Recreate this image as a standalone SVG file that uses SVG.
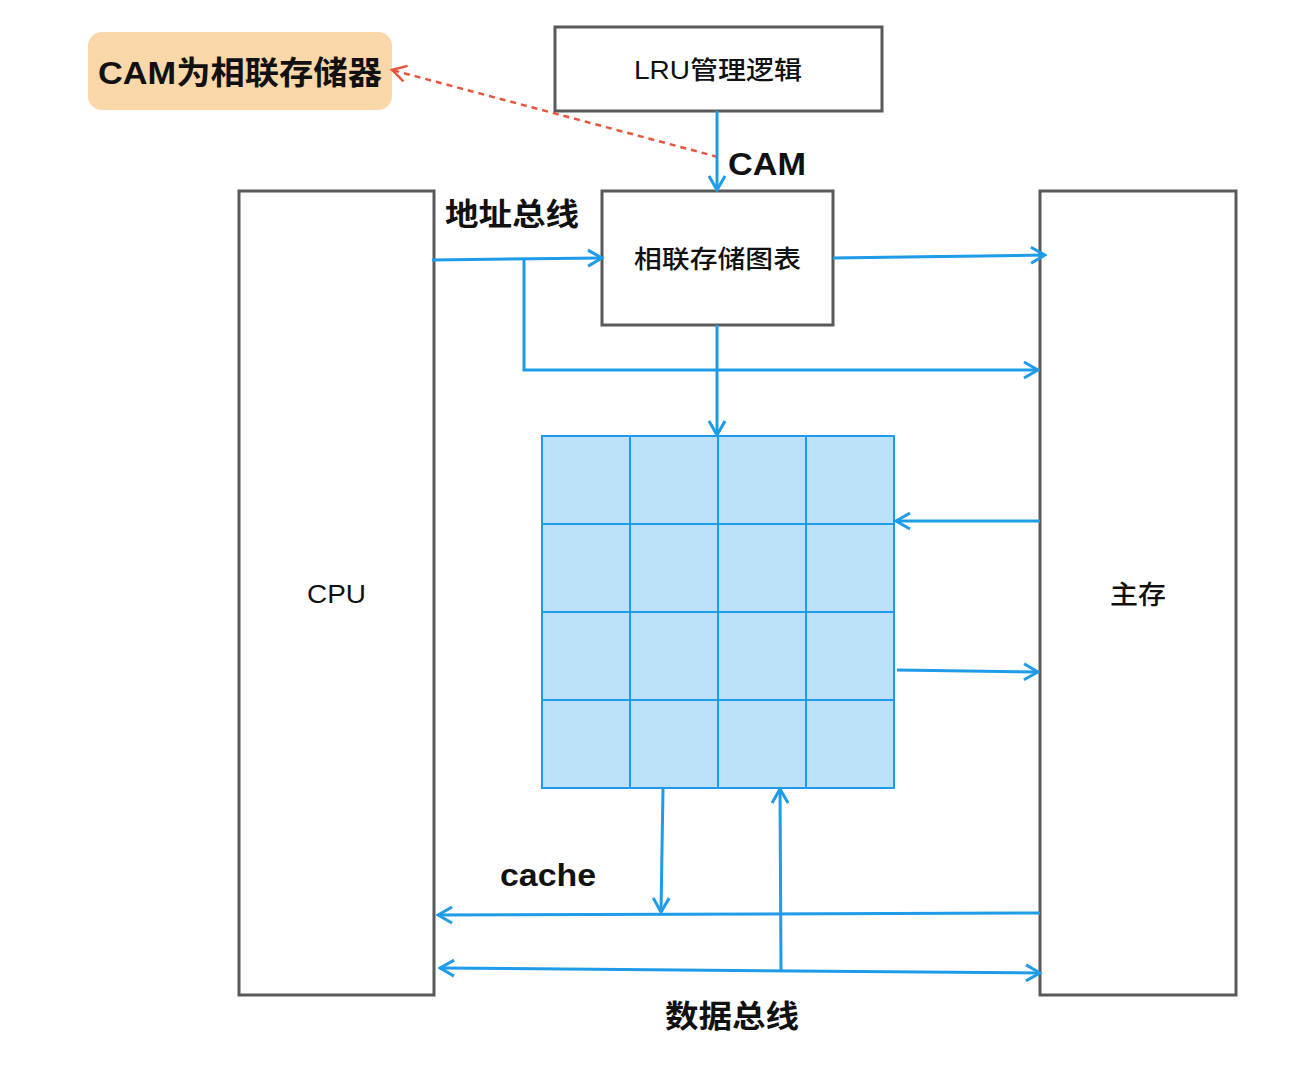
<svg xmlns="http://www.w3.org/2000/svg" width="1294" height="1079" viewBox="0 0 1294 1079">
<defs>
<style>
.box{fill:#fff;stroke:#595959;stroke-width:3}
.t{font-family:"Liberation Sans","Noto Sans CJK SC",sans-serif;fill:#111}
.c{stroke:#1E9BE9;stroke-width:3;fill:none}
.g{fill:#BEE1FA;stroke:#1E9BE9;stroke-width:2}
</style>
<marker id="a" viewBox="0 0 20 20" refX="18" refY="10" markerWidth="20" markerHeight="20" markerUnits="userSpaceOnUse" orient="auto-start-reverse"><path d="M4,2 L18,10 L4,18" fill="none" stroke="#1E9BE9" stroke-width="3"/></marker>
<marker id="r" viewBox="0 0 20 20" refX="18" refY="10" markerWidth="20" markerHeight="20" markerUnits="userSpaceOnUse" orient="auto"><path d="M4,2 L18,10 L4,18" fill="none" stroke="#E8553A" stroke-width="2.5"/></marker>
</defs>
<rect width="1294" height="1079" fill="#fff"/>
<g id="note"><rect x="88" y="32" width="304" height="78" rx="14" fill="#FAD7A8"/><text class="t" x="98" y="84" font-size="32" font-weight="600" textLength="284" lengthAdjust="spacingAndGlyphs">CAM为相联存储器</text></g>
<g id="lru"><rect class="box" x="555" y="27" width="327" height="84"/><text class="t" x="634" y="79" font-size="25" font-weight="500" textLength="168" lengthAdjust="spacingAndGlyphs">LRU管理逻辑</text></g>
<g id="cam"><rect class="box" x="602" y="191" width="231" height="134"/><text class="t" x="634" y="268" font-size="25" font-weight="500" textLength="167" lengthAdjust="spacingAndGlyphs">相联存储图表</text></g>
<g id="cpu"><rect class="box" x="239" y="191" width="195" height="804"/><text class="t" x="307" y="603" font-size="25" font-weight="500" textLength="59" lengthAdjust="spacingAndGlyphs">CPU</text></g>
<g id="mem"><rect class="box" x="1040" y="191" width="196" height="804"/><text class="t" x="1110" y="604" font-size="26" font-weight="500" textLength="56" lengthAdjust="spacingAndGlyphs">主存</text></g>
<g id="grid">
<rect class="g" x="542" y="436" width="352" height="352"/>
<path class="g" d="M630,436V788M718,436V788M806,436V788M542,524H894M542,612H894M542,700H894"/>
</g>
<g id="labels">
<text class="t" x="728" y="175" font-size="31" font-weight="600" textLength="78" lengthAdjust="spacingAndGlyphs">CAM</text>
<text class="t" x="445" y="225" font-size="31" font-weight="600" textLength="134" lengthAdjust="spacingAndGlyphs">地址总线</text>
<text class="t" x="500" y="886" font-size="31" font-weight="600" textLength="96" lengthAdjust="spacingAndGlyphs">cache</text>
<text class="t" x="665" y="1027" font-size="31" font-weight="600" textLength="134" lengthAdjust="spacingAndGlyphs">数据总线</text>
</g>
<g id="connectors">
<line x1="718" y1="157" x2="392" y2="70" stroke="#E8553A" stroke-width="2.5" stroke-dasharray="6,5" marker-end="url(#r)"/>
<line class="c" x1="717" y1="111" x2="717" y2="190" marker-end="url(#a)"/>
<line class="c" x1="432" y1="260" x2="602" y2="258" marker-end="url(#a)"/>
<polyline class="c" points="524,260 524,370 1038,370" marker-end="url(#a)"/>
<line class="c" x1="833" y1="258" x2="1045" y2="255" marker-end="url(#a)"/>
<line class="c" x1="717" y1="325" x2="717" y2="435" marker-end="url(#a)"/>
<line class="c" x1="1040" y1="521" x2="896" y2="521" marker-end="url(#a)"/>
<line class="c" x1="897" y1="670" x2="1038" y2="672" marker-end="url(#a)"/>
<line class="c" x1="663" y1="788" x2="661" y2="912" marker-end="url(#a)"/>
<line class="c" x1="1040" y1="913" x2="438" y2="915" marker-end="url(#a)"/>
<line class="c" x1="440" y1="968" x2="1040" y2="973" marker-start="url(#a)" marker-end="url(#a)"/>
<line class="c" x1="781" y1="970" x2="780" y2="789" marker-end="url(#a)"/>
</g>
</svg>
